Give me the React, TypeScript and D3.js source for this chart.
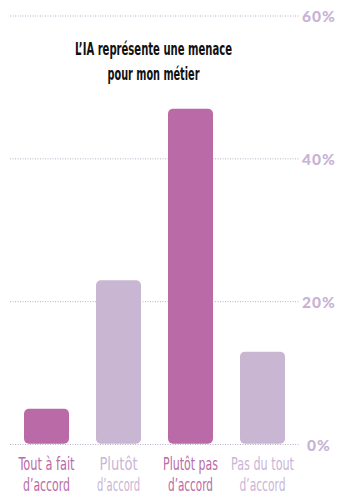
import React from "react";
import * as d3 from "d3";

const categories = ["Tout à fait|d’accord", "Plutôt|d’accord", "Plutôt pas|d’accord", "Pas du tout|d’accord"];
const values = [5, 23, 47, 13];
const tones = ["dark", "light", "dark", "light"];
const ticks = [0, 20, 40, 60];
const titleLines = ["L’IA représente une menace", "pour mon métier"];

const W = 348;
const H = 494;
const DARK = "#BA6AA6";
const LIGHT = "#C8B6D3";
const LIGHT_TEXT = "#C9B5D7";
const AXIS_TEXT = "#C8B3D5";

export default function App() {
  const x = d3.scaleBand<string>().domain(categories).range([6, 303]).paddingInner(0.375).paddingOuter(0.25);
  const y = d3.scaleLinear().domain([0, 60]).range([444.5, 16]);
  const labelWidths = [[56, 47], [38, 43], [55, 45], [63, 46]];
  return (
    <svg width={W} height={H} style={{ position: "absolute", left: 0, top: 0, background: "#fff" }}>
      {ticks.map((t) => (
        <g key={t}>
          <line x1={10} x2={300} y1={y(t)} y2={y(t)} stroke="#B9AEC6" strokeWidth={1} strokeDasharray="1 1.5" />
          <text x={319} y={y(t) + 6} textAnchor="middle" fill={AXIS_TEXT} fontFamily="Lato" fontWeight={900} fontSize={15.5} letterSpacing={1}>
            {t}%
          </text>
        </g>
      ))}
      {categories.map((c, i) => {
        const x0 = x(c)!;
        const bw = x.bandwidth();
        const top = y(values[i]);
        const col = tones[i] === "dark" ? DARK : LIGHT;
        const tcol = tones[i] === "dark" ? DARK : LIGHT_TEXT;
        const lines = c.split("|");
        return (
          <g key={c}>
            <rect x={x0} y={top} width={bw} height={y(0) - 0.8 - top} rx={5} ry={5} fill={col} />
            {lines.map((l, j) => (
              <text key={j} x={x0 + bw / 2} y={469.5 + j * 21.5} textAnchor="middle" fill={tcol}
                fontFamily="DejaVu Sans Condensed" fontWeight={400} fontSize={17.5}
                textLength={labelWidths[i][j]} lengthAdjust="spacingAndGlyphs">
                {l}
              </text>
            ))}
          </g>
        );
      })}
      {titleLines.map((l, j) => (
        <text key={j} x={153.5} y={54.5 + j * 25.5} textAnchor="middle" fill="#111"
          fontFamily="DejaVu Sans Condensed" fontWeight={700} fontSize={18}
          textLength={j === 0 ? 157 : 92} lengthAdjust="spacingAndGlyphs">
          {l}
        </text>
      ))}
    </svg>
  );
}
